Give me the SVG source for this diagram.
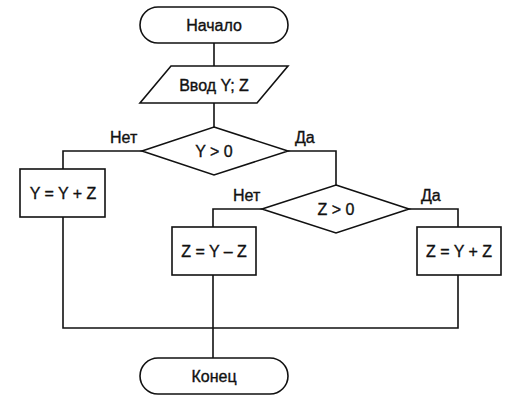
<svg xmlns="http://www.w3.org/2000/svg" width="522" height="409" viewBox="0 0 522 409">
<style>
.s{fill:#fff;stroke:#111;stroke-width:1.6}
.c{fill:none;stroke:#111;stroke-width:1.6}
text{font-family:"Liberation Sans",Arial,sans-serif;font-size:16px;fill:#111;stroke:#111;stroke-width:0.35}
.m{text-anchor:middle}
</style>
<rect width="522" height="409" fill="#fff"/>
<g id="connectors">
<path class="c" d="M214,43V66"/>
<path class="c" d="M214,103V127"/>
<path class="c" d="M142,151H63V169"/>
<path class="c" d="M288,151H336V185"/>
<path class="c" d="M262,209H213V227"/>
<path class="c" d="M409,209H458V227"/>
<path class="c" d="M63,217V328H458V275"/>
<path class="c" d="M213,275V358"/>
</g>
<g id="start"><rect class="s" x="140" y="7" width="148" height="36" rx="18"/><text class="m" x="214" y="31">Начало</text></g>
<g id="input"><polygon class="s" points="171,66 288,66 257,103 140,103"/><text class="m" x="214" y="91">Ввод Y; Z</text></g>
<g id="cond1"><polygon class="s" points="214,127 288,151 214,175 142,151"/><text class="m" x="214" y="157">Y &gt; 0</text></g>
<text x="110" y="143">Нет</text>
<text x="295" y="143">Да</text>
<g id="box1"><rect class="s" x="20" y="169" width="85" height="48"/><text class="m" x="63" y="199">Y = Y + Z</text></g>
<g id="cond2"><polygon class="s" points="336,185 409,209 336,233 262,209"/><text class="m" x="336" y="215">Z &gt; 0</text></g>
<text x="233" y="201">Нет</text>
<text x="421" y="201">Да</text>
<g id="box2"><rect class="s" x="172" y="227" width="84" height="48"/><text class="m" x="214" y="257">Z = Y – Z</text></g>
<g id="box3"><rect class="s" x="417" y="227" width="84" height="48"/><text class="m" x="459" y="257">Z = Y + Z</text></g>
<g id="end"><rect class="s" x="140" y="358" width="148" height="36" rx="18"/><text class="m" x="214" y="382">Конец</text></g>
</svg>
